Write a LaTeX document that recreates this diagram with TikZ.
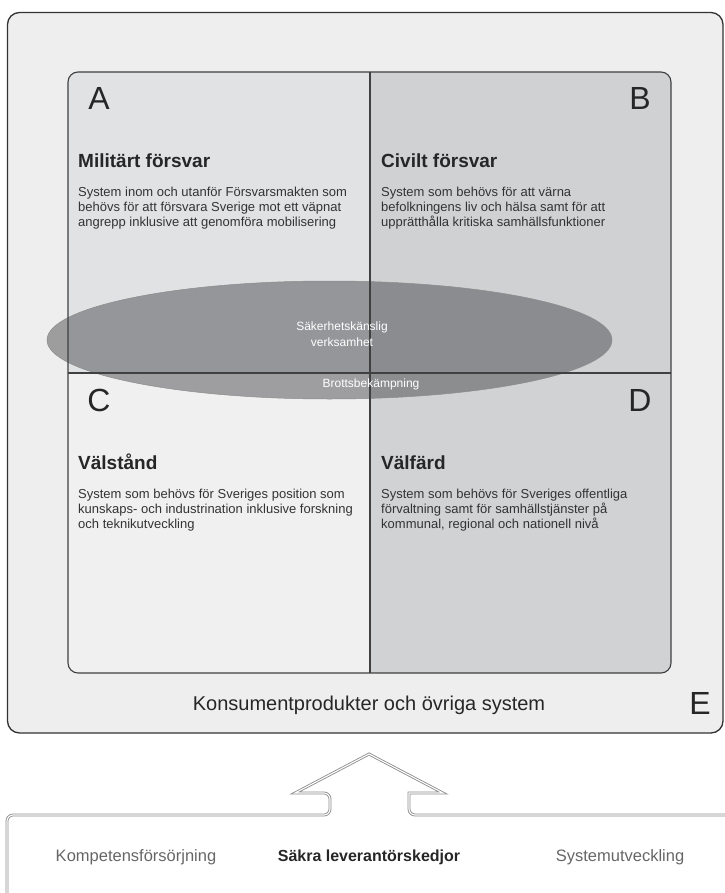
\documentclass[tikz,border=0pt]{standalone}
\usepackage{fontspec}
\setmainfont{Liberation Sans}
\usetikzlibrary{positioning}

\definecolor{boxE}{HTML}{EEEEEE}
\definecolor{quadA}{HTML}{E1E2E4}
\definecolor{quadB}{HTML}{D0D1D3}
\definecolor{quadC}{HTML}{F0F0F0}
\definecolor{quadD}{HTML}{D1D2D4}
\definecolor{secretGray}{HTML}{2A2B2E}

\begin{document}
\begin{tikzpicture}[x=1pt, y=-1pt,
  every node/.style={inner sep=0pt},
  letter/.style={font=\fontsize{32}{36}\selectfont, text=black!85},
  heading/.style={anchor=base west, font=\fontsize{19}{22}\selectfont\bfseries, text=black!85},
  desc/.style={anchor=north west, align=left, font=\fontsize{13}{15}\selectfont, text=black!80},
  secret/.style={text=white, font=\fontsize{12}{16}\selectfont, align=center},
  support/.style={anchor=base, font=\fontsize{16.5}{20}\selectfont, text=black!60},
  chainframe/.style={draw=black!45, double=white, double distance=1.1pt, line width=0.85pt}]
\useasboundingbox (0,0) rectangle (724,893);
% outer box E
\draw[fill=boxE, draw=black!80, line width=1.3pt, rounded corners=12pt] (7.5,12.5) rectangle (723,733);
% quadrants A-D
\begin{scope}
  \clip[rounded corners=10pt] (68,72) rectangle (671,673);
  \fill[quadA] (68,72) rectangle (370,373);
  \fill[quadB] (370,72) rectangle (671,373);
  \fill[quadC] (68,373) rectangle (370,673);
  \fill[quadD] (370,373) rectangle (671,673);
\end{scope}
% security sensitive ellipse
\filldraw[fill=secretGray, fill opacity=0.41, draw=black!45, line width=0.5pt]
  (329.5,340) ellipse [x radius=282.5pt, y radius=59pt];
% frame and dividers
\draw[black!75, line width=1.1pt, rounded corners=10pt] (68,72) rectangle (671,673);
\draw[black!75, line width=1.1pt] (370,72) -- (370,673);
\draw[black!75, line width=1.1pt] (68,373) -- (671,373);
% quadrant letters
\node[letter] (lblA) at (99,98) {A};
\node[letter] (lblB) at (640,98) {B};
\node[letter] (lblC) at (99,400) {C};
\node[letter] (lblD) at (640,400) {D};
\node[letter] (lblE) at (700,703) {E};
% quadrant texts
\node[heading] (headA) at (78,168) {Militärt försvar};
\node[desc] (descA) at (78,187) {System inom och utanför Försvarsmakten som\\behövs för att försvara Sverige mot ett väpnat\\angrepp inklusive att genomföra mobilisering};
\node[heading] (headB) at (381,168) {Civilt försvar};
\node[desc] (descB) at (381,187) {System som behövs för att värna\\befolkningens liv och hälsa samt för att\\upprätthålla kritiska samhällsfunktioner};
\node[heading] (headC) at (78,469) {Välstånd};
\node[desc] (descC) at (78,489) {System som behövs för Sveriges position som\\kunskaps- och industrination inklusive forskning\\och teknikutveckling};
\node[heading] (headD) at (381,469) {Välfärd};
\node[desc] (descD) at (381,489) {System som behövs för Sveriges offentliga\\förvaltning samt för samhällstjänster på\\kommunal, regional och nationell nivå};
% ellipse texts
\node[secret] (secret) at (342,334) {Säkerhetskänslig\\verksamhet};
\node[secret, anchor=base] (crime) at (371,387) {Brottsbekämpning};
\node[anchor=base, font=\fontsize{20}{24}\selectfont, text=black!85] (consumer) at (369,710) {Konsumentprodukter och övriga system};
% supply chain frame with arrow
\draw[chainframe, rounded corners=6pt] (7,900) -- (7,815) -- (330,815) -- (330,793)
  [sharp corners] -- (295,793) -- (369,754) -- (443,793) -- (409,793)
  [rounded corners=6pt] -- (409,815) -- (730,815);
\node[support] (skills) at (136,861) {Kompetensförsörjning};
\node[support, font=\fontsize{16}{20}\selectfont\bfseries, text=black!85] (chains) at (369,861) {Säkra leverantörskedjor};
\node[support] (sysdev) at (620,861) {Systemutveckling};
\end{tikzpicture}
\end{document}
